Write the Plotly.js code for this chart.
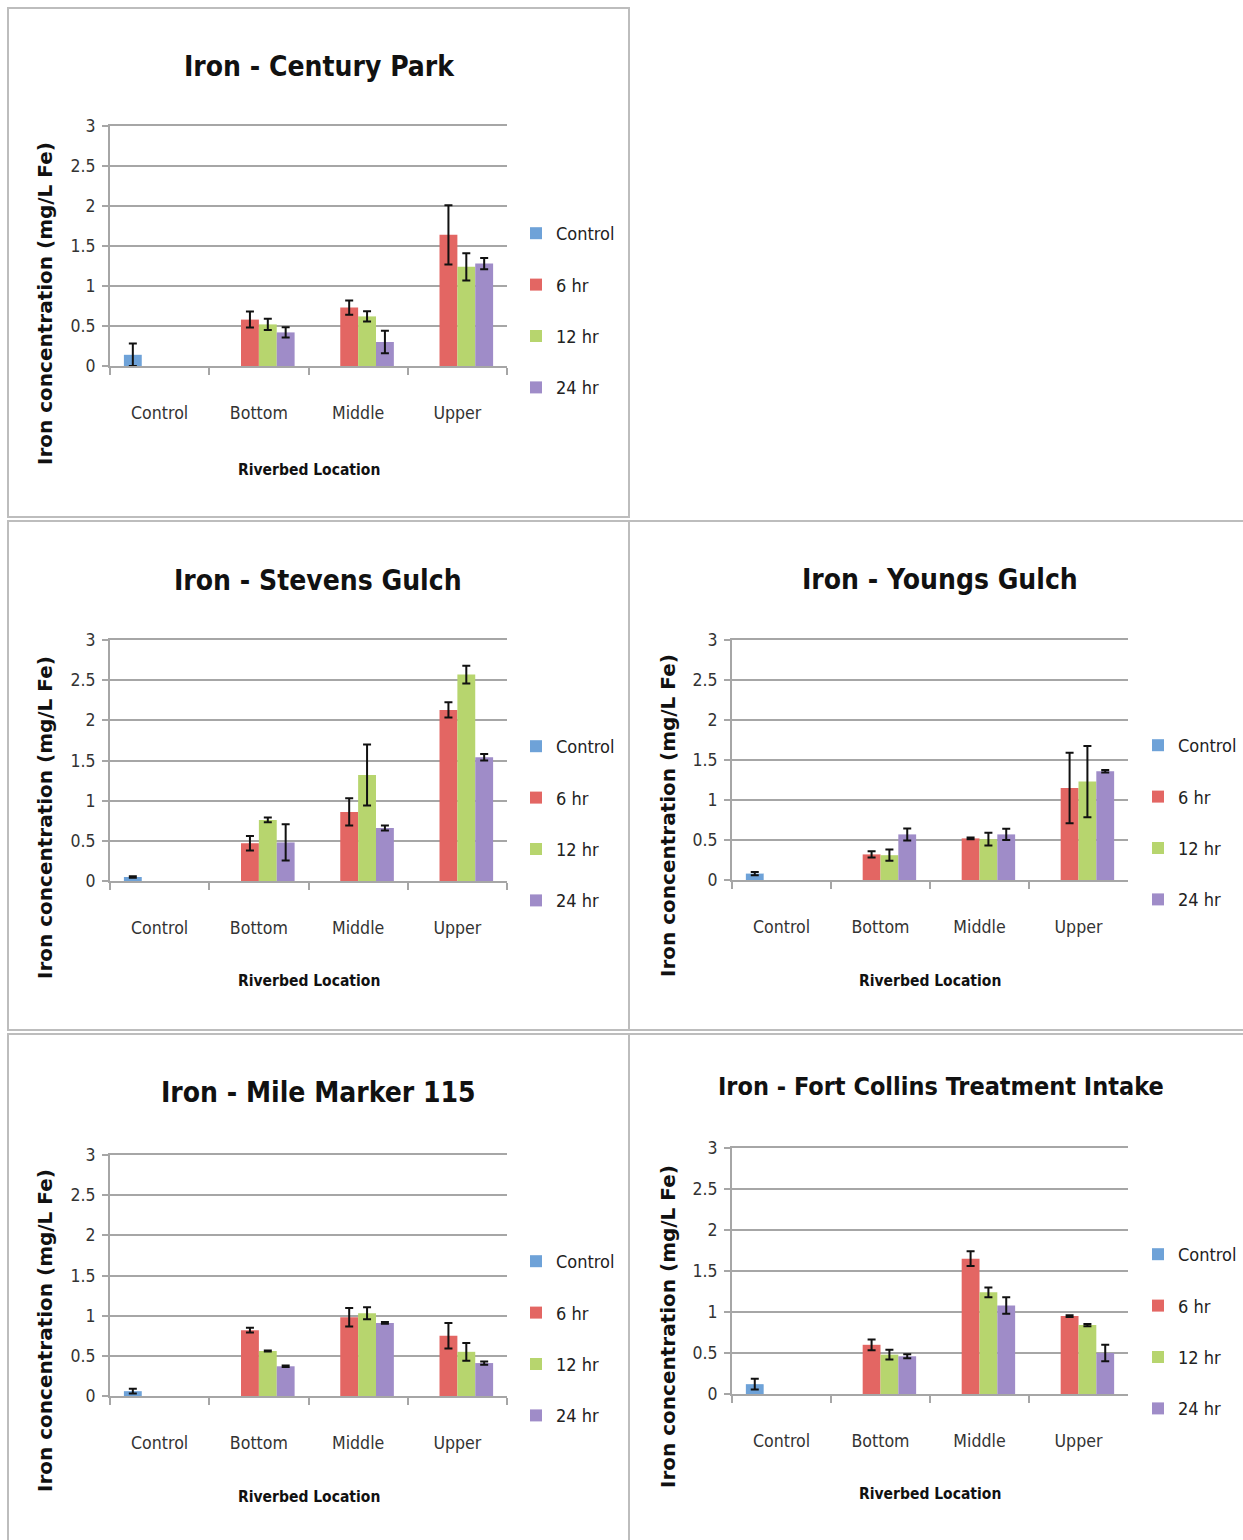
<!DOCTYPE html>
<html>
<head>
<meta charset="utf-8">
<script src="https://cdn.plot.ly/plotly-3.0.1.min.js"></script>
<style>
  html, body { margin: 0; padding: 0; background: #ffffff; overflow: hidden; }
  #chart { width: 1243px; height: 1540px; }
</style>
</head>
<body>
<div id="chart"></div>
<script>
// ---------------- DATA ----------------
const categories = ["Control", "Bottom", "Middle", "Upper"];
const seriesNames = ["Control", "6 hr", "12 hr", "24 hr"];
const panelTitles = [
  "Iron - Century Park",
  "Iron - Stevens Gulch",
  "Iron - Youngs Gulch",
  "Iron - Mile Marker 115",
  "Iron - Fort Collins Treatment Intake"
];
const xAxisTitle = "Riverbed Location";
const yAxisTitle = "Iron concentration (mg/L Fe)";
const yTickVals = [0, 0.5, 1, 1.5, 2, 2.5, 3];

// Century Park
const cpControl = [0.14, null, null, null];
const cpControlErr = [0.14, 0, 0, 0];
const cp6hr = [null, 0.58, 0.73, 1.64];
const cp6hrErr = [0, 0.10, 0.09, 0.37];
const cp12hr = [null, 0.52, 0.62, 1.24];
const cp12hrErr = [0, 0.07, 0.065, 0.17];
const cp24hr = [null, 0.42, 0.30, 1.28];
const cp24hrErr = [0, 0.065, 0.14, 0.07];

// Stevens Gulch
const sgControl = [0.05, null, null, null];
const sgControlErr = [0.01, 0, 0, 0];
const sg6hr = [null, 0.47, 0.86, 2.13];
const sg6hrErr = [0, 0.09, 0.17, 0.095];
const sg12hr = [null, 0.76, 1.32, 2.57];
const sg12hrErr = [0, 0.03, 0.38, 0.11];
const sg24hr = [null, 0.48, 0.66, 1.54];
const sg24hrErr = [0, 0.225, 0.03, 0.04];

// Youngs Gulch
const ygControl = [0.08, null, null, null];
const ygControlErr = [0.02, 0, 0, 0];
const yg6hr = [null, 0.32, 0.52, 1.15];
const yg6hrErr = [0, 0.04, 0.01, 0.44];
const yg12hr = [null, 0.31, 0.51, 1.23];
const yg12hrErr = [0, 0.07, 0.08, 0.445];
const yg24hr = [null, 0.57, 0.57, 1.36];
const yg24hrErr = [0, 0.075, 0.07, 0.015];

// Mile Marker 115
const mmControl = [0.06, null, null, null];
const mmControlErr = [0.03, 0, 0, 0];
const mm6hr = [null, 0.82, 0.98, 0.75];
const mm6hrErr = [0, 0.03, 0.115, 0.16];
const mm12hr = [null, 0.56, 1.03, 0.55];
const mm12hrErr = [0, 0.005, 0.075, 0.11];
const mm24hr = [null, 0.37, 0.91, 0.41];
const mm24hrErr = [0, 0.01, 0.01, 0.02];

// Fort Collins Treatment Intake
const fcControl = [0.12, null, null, null];
const fcControlErr = [0.065, 0, 0, 0];
const fc6hr = [null, 0.60, 1.65, 0.95];
const fc6hrErr = [0, 0.065, 0.09, 0.01];
const fc12hr = [null, 0.48, 1.24, 0.84];
const fc12hrErr = [0, 0.06, 0.06, 0.015];
const fc24hr = [null, 0.46, 1.08, 0.50];
const fc24hrErr = [0, 0.025, 0.10, 0.10];

// ---------------- STYLE / LAYOUT ----------------
const W = 1243, H = 1540;
const px = v => v / W;
const py = v => 1 - v / H;
const narrow = '"DejaVu Sans Condensed", "DejaVu Sans", sans-serif';
const colors = ["#6ea2d8", "#e36663", "#b7d56e", "#9f8cc8"];
const gridCol = "#a6a6a6";

const panels = [
  { vals: [cpControl, cp6hr, cp12hr, cp24hr], errs: [cpControlErr, cp6hrErr, cp12hrErr, cp24hrErr],
    plot: [110, 507, 126, 366], box: [8, 629, 8, 517], titleX: 319, titleY: 67, titleSize: 28, ytitle: [45, 304], xtitleY: 470, legend: [516, 215] },
  { vals: [sgControl, sg6hr, sg12hr, sg24hr], errs: [sgControlErr, sg6hrErr, sg12hrErr, sg24hrErr],
    plot: [110, 507, 640, 881], box: [8, 629, 521, 1030], titleX: 318, titleY: 580, titleSize: 28, ytitle: [45, 818], xtitleY: 981, legend: [516, 728] },
  { vals: [ygControl, yg6hr, yg12hr, yg24hr], errs: [ygControlErr, yg6hrErr, yg12hrErr, yg24hrErr],
    plot: [732, 1128, 640, 880], box: [629, 1260, 521, 1030], titleX: 940, titleY: 579, titleSize: 28, ytitle: [668, 815], xtitleY: 981, legend: [1138, 727] },
  { vals: [mmControl, mm6hr, mm12hr, mm24hr], errs: [mmControlErr, mm6hrErr, mm12hrErr, mm24hrErr],
    plot: [110, 507, 1155, 1396], box: [8, 629, 1034, 1560], titleX: 318, titleY: 1092, titleSize: 28, ytitle: [45, 1331], xtitleY: 1497, legend: [516, 1243] },
  { vals: [fcControl, fc6hr, fc12hr, fc24hr], errs: [fcControlErr, fc6hrErr, fc12hrErr, fc24hrErr],
    plot: [732, 1128, 1148, 1394], box: [629, 1260, 1034, 1560], titleX: 941, titleY: 1086, titleSize: 25, ytitle: [668, 1326], xtitleY: 1494, legend: [1138, 1236] }
];

const data = [];
const layout = {
  width: W, height: H,
  margin: { l: 0, r: 0, t: 0, b: 0 },
  paper_bgcolor: "#ffffff",
  plot_bgcolor: "#ffffff",
  barmode: "group",
  bargap: 0.28,
  bargroupgap: 0,
  showlegend: true,
  annotations: [],
  shapes: []
};

panels.forEach((p, i) => {
  const n = i + 1;
  const xa = n === 1 ? "x" : "x" + n;
  const ya = n === 1 ? "y" : "y" + n;
  const lg = n === 1 ? "legend" : "legend" + n;
  for (let s = 0; s < 4; s++) {
    data.push({
      type: "bar",
      name: seriesNames[s],
      x: categories,
      y: p.vals[s],
      xaxis: xa, yaxis: ya,
      legend: lg,
      legendgroup: "p" + n + "s" + s,
      marker: { color: colors[s], line: { width: 0 } },
      error_y: { type: "data", array: p.errs[s], visible: true, color: "#111111", thickness: 2, width: 4 },
      hoverinfo: "x+y+name"
    });
  }
  const [x0, x1, yTop, yBot] = p.plot;
  layout["xaxis" + (n === 1 ? "" : n)] = {
    domain: [px(x0), px(x1)],
    anchor: ya,
    type: "category",
    categoryorder: "array",
    categoryarray: categories,
    tickson: "boundaries",
    ticks: "outside", ticklen: 7, tickwidth: 2, tickcolor: gridCol,
    showline: true, mirror: true, linecolor: gridCol, linewidth: 2,
    showgrid: false, zeroline: false,
    tickfont: { family: narrow, size: 17.6, color: "#333333" },
    ticklabelstandoff: 30,
    fixedrange: true
  };
  layout["yaxis" + (n === 1 ? "" : n)] = {
    domain: [py(yBot), py(yTop)],
    anchor: xa,
    range: [0, 3],
    tickmode: "array",
    tickvals: yTickVals,
    ticktext: yTickVals.map(v => String(v)),
    ticks: "outside", ticklen: 6, tickwidth: 2, tickcolor: gridCol,
    showline: true, linecolor: gridCol, linewidth: 2,
    showgrid: true, gridcolor: gridCol, gridwidth: 2,
    zeroline: false,
    tickfont: { family: narrow, size: 17.5, color: "#333333" },
    ticklabelstandoff: 3,
    fixedrange: true
  };
  layout[lg] = {
    x: px(p.legend[0]), y: py(p.legend[1]),
    xanchor: "left", yanchor: "top",
    orientation: "v",
    bgcolor: "rgba(0,0,0,0)",
    font: { family: narrow, size: 18, color: "#222222" },
    traceorder: "grouped",
    tracegroupgap: 25,
    itemwidth: 30
  };
  // panel title
  layout.annotations.push({
    xref: "paper", yref: "paper",
    x: px(p.titleX), y: py(p.titleY),
    xanchor: "center", yanchor: "middle",
    text: "<b>" + panelTitles[i] + "</b>", showarrow: false,
    font: { family: narrow, size: p.titleSize, color: "#111111" }
  });
  // x-axis title
  layout.annotations.push({
    xref: "paper", yref: "paper",
    x: px((x0 + x1) / 2), y: py(p.xtitleY),
    xanchor: "center", yanchor: "middle",
    text: "<b>" + xAxisTitle + "</b>", showarrow: false,
    font: { family: narrow, size: 15.5, color: "#111111" }
  });
  // y-axis title
  layout.annotations.push({
    xref: "paper", yref: "paper",
    x: px(p.ytitle[0]), y: py(p.ytitle[1]),
    xanchor: "center", yanchor: "middle",
    textangle: -90,
    text: "<b>" + yAxisTitle + "</b>", showarrow: false,
    font: { family: '"DejaVu Sans", sans-serif', size: 20, color: "#111111" }
  });
  // panel border
  layout.shapes.push({
    type: "rect", xref: "paper", yref: "paper",
    x0: px(p.box[0]), x1: px(p.box[1]), y0: py(p.box[3]), y1: py(p.box[2]),
    line: { color: "#bdbdbd", width: 2 }, fillcolor: "rgba(0,0,0,0)", layer: "below"
  });
});

Plotly.newPlot("chart", data, layout, { displayModeBar: false, staticPlot: true });
</script>
</body>
</html>
